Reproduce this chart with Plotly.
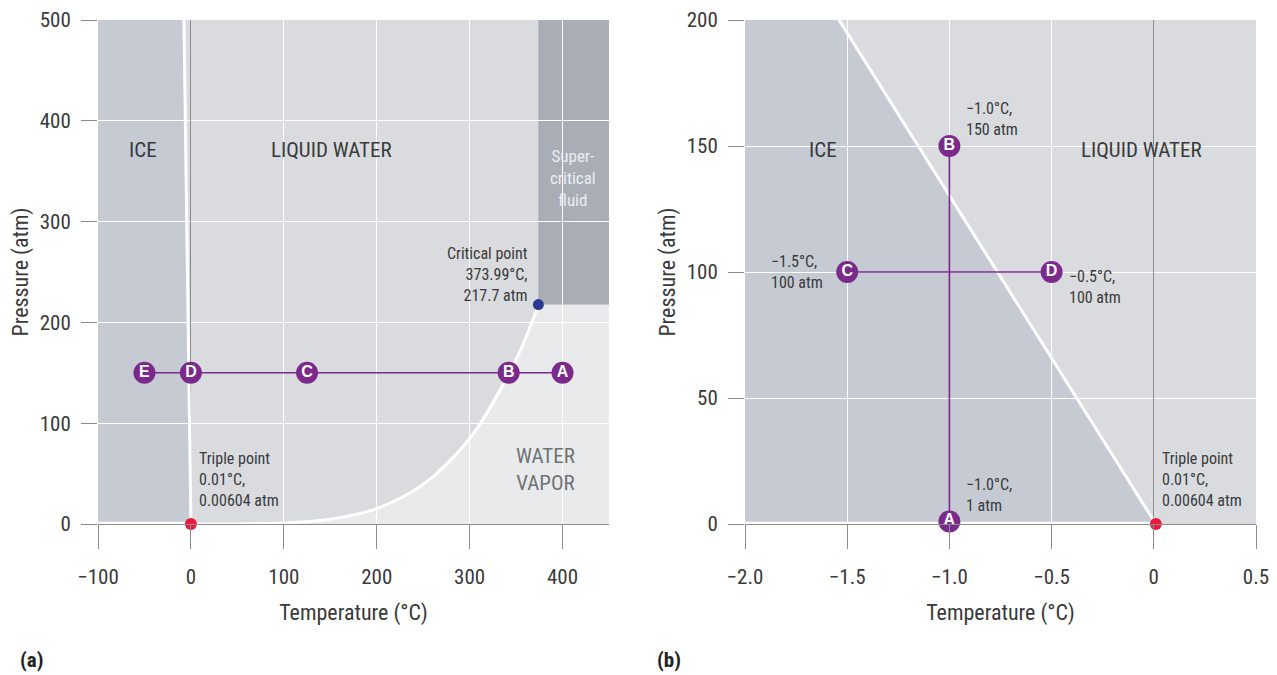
import plotly.graph_objects as go

# ---------------- data ----------------
# (a) full phase diagram
vap_T = [0.01, 50, 100, 150, 200, 250, 300, 350, 373.99]
vap_P = [0.006, 0.12, 1.0, 4.7, 15.3, 39.3, 84.8, 163.2, 217.7]
melt_a_T = [0.01, -7.5]
melt_a_P = [0.006, 500]
crit_T, crit_P = 373.99, 217.7
triple_T, triple_P = 0.01, 0.00604
path_a_labels = ["E", "D", "C", "B", "A"]
path_a_T = [-50, 0, 125, 342, 400]
path_a_P = [150, 150, 150, 150, 150]
xrange_a = [-100, 450]
yrange_a = [0, 500]
xticks_a = [-100, 0, 100, 200, 300, 400]
xticktext_a = ["\u2212100", "0", "100", "200", "300", "400"]
yticks_a = [0, 100, 200, 300, 400, 500]

# (b) close-up of the ice/liquid boundary
melt_b_T = [0.01, -1.54]
melt_b_P = [0.006, 200]
path_b_labels = ["A", "B", "C", "D"]
path_b_T = [-1.0, -1.0, -1.5, -0.5]
path_b_P = [1, 150, 100, 100]
xrange_b = [-2.0, 0.5]
yrange_b = [0, 200]
xticks_b = [-2.0, -1.5, -1.0, -0.5, 0, 0.5]
xticktext_b = ["\u22122.0", "\u22121.5", "\u22121.0", "\u22120.5", "0", "0.5"]
yticks_b = [0, 50, 100, 150, 200]

# ---------------- style ----------------
FONT = "Liberation Sans Narrow, Roboto Condensed, Arial Narrow, Roboto, sans-serif"
TXT = "#3a3a3a"
ICE = "#c6cad2"
LIQ = "#d9dbdf"
VAP = "#e9eaec"
SUP = "#a8adb6"
PURPLE = "#7b2a8c"
RED = "#e8193c"
BLUE = "#2b3990"
AXC = "#8c8c8c"

fig = go.Figure()


def poly(xs, ys):
    s = "M " + " L ".join(f"{x},{y}" for x, y in zip(xs, ys)) + " Z"
    return s


shapes = []
# (a) ice
shapes.append(dict(type="path", xref="x", yref="y", layer="below",
                   path=poly([xrange_a[0], melt_a_T[0], melt_a_T[1], xrange_a[0]],
                             [yrange_a[0], yrange_a[0], melt_a_P[1], yrange_a[1]]),
                   fillcolor=ICE, line=dict(width=0)))
# (a) vapor
vx = [vap_T[0]] + vap_T + [xrange_a[1], xrange_a[1]]
vy = [yrange_a[0]] + vap_P + [crit_P, yrange_a[0]]
shapes.append(dict(type="path", xref="x", yref="y", layer="below",
                   path=poly(vx, vy), fillcolor=VAP, line=dict(width=0)))
# (a) supercritical
shapes.append(dict(type="path", xref="x", yref="y", layer="below",
                   path=poly([crit_T, xrange_a[1], xrange_a[1], crit_T],
                             [crit_P, crit_P, yrange_a[1], yrange_a[1]]),
                   fillcolor=SUP, line=dict(width=0)))
# (b) ice
shapes.append(dict(type="path", xref="x2", yref="y2", layer="below",
                   path=poly([xrange_b[0], melt_b_T[0], melt_b_T[1], xrange_b[0]],
                             [yrange_b[0], yrange_b[0], melt_b_P[1], yrange_b[1]]),
                   fillcolor=ICE, line=dict(width=0)))

# boundary lines (white)
fig.add_trace(go.Scatter(x=[xrange_a[0], triple_T], y=[yrange_a[0] + 0.8, triple_P + 0.8],
                         mode="lines", line=dict(color="white", width=3),
                         hoverinfo="skip", showlegend=False, xaxis="x", yaxis="y"))
fig.add_trace(go.Scatter(x=vap_T, y=vap_P, mode="lines", line=dict(color="white", width=3, shape="spline"),
                         hoverinfo="skip", showlegend=False, xaxis="x", yaxis="y"))
fig.add_trace(go.Scatter(x=melt_a_T, y=melt_a_P, mode="lines", line=dict(color="white", width=3),
                         hoverinfo="skip", showlegend=False, xaxis="x", yaxis="y"))
fig.add_trace(go.Scatter(x=melt_b_T, y=melt_b_P, mode="lines", line=dict(color="white", width=3),
                         hoverinfo="skip", showlegend=False, xaxis="x2", yaxis="y2"))
fig.add_trace(go.Scatter(x=[xrange_b[0], triple_T], y=[0.3, 0.3], mode="lines",
                         line=dict(color="white", width=3),
                         hoverinfo="skip", showlegend=False, xaxis="x2", yaxis="y2"))

# purple paths
fig.add_trace(go.Scatter(x=path_a_T, y=path_a_P, mode="lines", line=dict(color=PURPLE, width=1.6),
                         hoverinfo="skip", showlegend=False, xaxis="x", yaxis="y"))
fig.add_trace(go.Scatter(x=path_b_T[:2], y=path_b_P[:2], mode="lines", line=dict(color=PURPLE, width=1.6),
                         hoverinfo="skip", showlegend=False, xaxis="x2", yaxis="y2"))
fig.add_trace(go.Scatter(x=path_b_T[2:], y=path_b_P[2:], mode="lines", line=dict(color=PURPLE, width=1.6),
                         hoverinfo="skip", showlegend=False, xaxis="x2", yaxis="y2"))

# special points
fig.add_trace(go.Scatter(x=[crit_T], y=[crit_P], mode="markers",
                         marker=dict(color=BLUE, size=11), cliponaxis=False,
                         hoverinfo="skip", showlegend=False, xaxis="x", yaxis="y"))
fig.add_trace(go.Scatter(x=[triple_T], y=[triple_P], mode="markers",
                         marker=dict(color=RED, size=12), cliponaxis=False,
                         hoverinfo="skip", showlegend=False, xaxis="x", yaxis="y"))
fig.add_trace(go.Scatter(x=[triple_T], y=[triple_P], mode="markers",
                         marker=dict(color=RED, size=12), cliponaxis=False,
                         hoverinfo="skip", showlegend=False, xaxis="x2", yaxis="y2"))

# lettered markers
mk = dict(color=PURPLE, size=22, line=dict(color=PURPLE, width=0))
tf = dict(family="Liberation Sans Narrow, Liberation Sans, Arial, sans-serif", size=16, color="white")
fig.add_trace(go.Scatter(x=path_a_T, y=path_a_P, mode="markers+text", text=[f"<b>{t}</b>" for t in path_a_labels],
                         textposition="middle center", marker=mk, textfont=tf, cliponaxis=False,
                         hoverinfo="skip", showlegend=False, xaxis="x", yaxis="y"))
fig.add_trace(go.Scatter(x=path_b_T, y=path_b_P, mode="markers+text", text=[f"<b>{t}</b>" for t in path_b_labels],
                         textposition="middle center", marker=mk, textfont=tf, cliponaxis=False,
                         hoverinfo="skip", showlegend=False, xaxis="x2", yaxis="y2"))

# ---------------- annotations ----------------
ann = []


def A(text, x, y, xref, yref, size=16, color=TXT, xanchor="center", align="center"):
    ann.append(dict(text=text, x=x, y=y, xref=xref, yref=yref, showarrow=False,
                    font=dict(family=FONT, size=size, color=color),
                    xanchor=xanchor, yanchor="middle", align=align))


A("ICE", -51.6, 371, "x", "y", size=21)
A("LIQUID WATER", 151.6, 371, "x", "y", size=21)
A("Super-<br>critical<br>fluid", 410.8, 343, "x", "y", size=17, color="#eceef2")
A("WATER<br>VAPOR", 381.7, 53.6, "x", "y", size=21, color="#707276")
A("Critical point<br>373.99°C,<br>217.7 atm", 364.5, 248, "x", "y", size=16, xanchor="right", align="right")
A("Triple point<br>0.01°C,<br>0.00604 atm", 7.0, 44.6, "x", "y", size=16, xanchor="left", align="left")

A("ICE", -1.62, 148.4, "x2", "y2", size=21)
A("LIQUID WATER", -0.058, 148.4, "x2", "y2", size=21)
A("\u22121.0°C,<br>150 atm", -0.93, 160.7, "x2", "y2", size=16, xanchor="left", align="left")
A("\u22121.5°C,<br>100 atm", -1.607, 100, "x2", "y2", size=16, xanchor="right", align="left")
A("\u22120.5°C,<br>100 atm", -0.427, 94, "x2", "y2", size=16, xanchor="left", align="left")
A("\u22121.0°C,<br>1 atm", -0.93, 11.5, "x2", "y2", size=16, xanchor="left", align="left")
A("Triple point<br>0.01°C,<br>0.00604 atm", 0.029, 17.5, "x2", "y2", size=16, xanchor="left", align="left")

ann.append(dict(text="<b>(a)</b>", x=18 / 1277, y=1 - 660 / 675, xref="paper", yref="paper",
                showarrow=False, xanchor="left", yanchor="middle",
                font=dict(family=FONT, size=21, color="#222")))
ann.append(dict(text="<b>(b)</b>", x=655 / 1277, y=1 - 660 / 675, xref="paper", yref="paper",
                showarrow=False, xanchor="left", yanchor="middle",
                font=dict(family=FONT, size=21, color="#222")))

ydom = [1 - 524 / 675, 1 - 20 / 675]
xaxis_common = dict(showgrid=True, gridcolor="white", gridwidth=1.2, zeroline=True, zerolinecolor=AXC,
                    zerolinewidth=1, showline=True, linecolor=AXC, linewidth=1.2, ticks="outside",
                    ticklen=24, tickcolor=AXC, tickwidth=1.2, ticklabelstandoff=10,
                    tickfont=dict(family=FONT, size=21, color=TXT),
                    title=dict(text="Temperature (°C)", font=dict(family=FONT, size=22, color=TXT), standoff=16),
                    fixedrange=True, layer="above traces", automargin=False)
yaxis_common = dict(showgrid=True, gridcolor="white", gridwidth=1.2, zeroline=False, showline=False,
                    ticks="outside", ticklen=16, tickcolor=AXC, tickwidth=1.2, ticklabelstandoff=6,
                    tickfont=dict(family=FONT, size=21, color=TXT),
                    title=dict(text="Pressure (atm)", font=dict(family=FONT, size=22, color=TXT), standoff=4),
                    fixedrange=True, domain=ydom, automargin=False)

fig.update_layout(
    xaxis=dict(xaxis_common, domain=[98 / 1277, 609 / 1277], range=xrange_a,
               tickvals=xticks_a, ticktext=xticktext_a, anchor="y"),
    yaxis=dict(yaxis_common, range=yrange_a, tickvals=yticks_a, anchor="x"),
    xaxis2=dict(xaxis_common, domain=[745 / 1277, 1256 / 1277], range=xrange_b,
                tickvals=xticks_b, ticktext=xticktext_b, anchor="y2"),
    yaxis2=dict(yaxis_common, range=yrange_b, tickvals=yticks_b, anchor="x2"),
    shapes=shapes,
    annotations=ann,
    plot_bgcolor=LIQ,
    paper_bgcolor="white",
    width=1277, height=675,
    margin=dict(l=0, r=0, t=0, b=0, autoexpand=False),
    showlegend=False,
    font=dict(family=FONT, color=TXT),
)

fig.write_html("out.html", config={"displayModeBar": False},
               post_script="document.body.style.margin='0';document.body.style.overflow='hidden';")
